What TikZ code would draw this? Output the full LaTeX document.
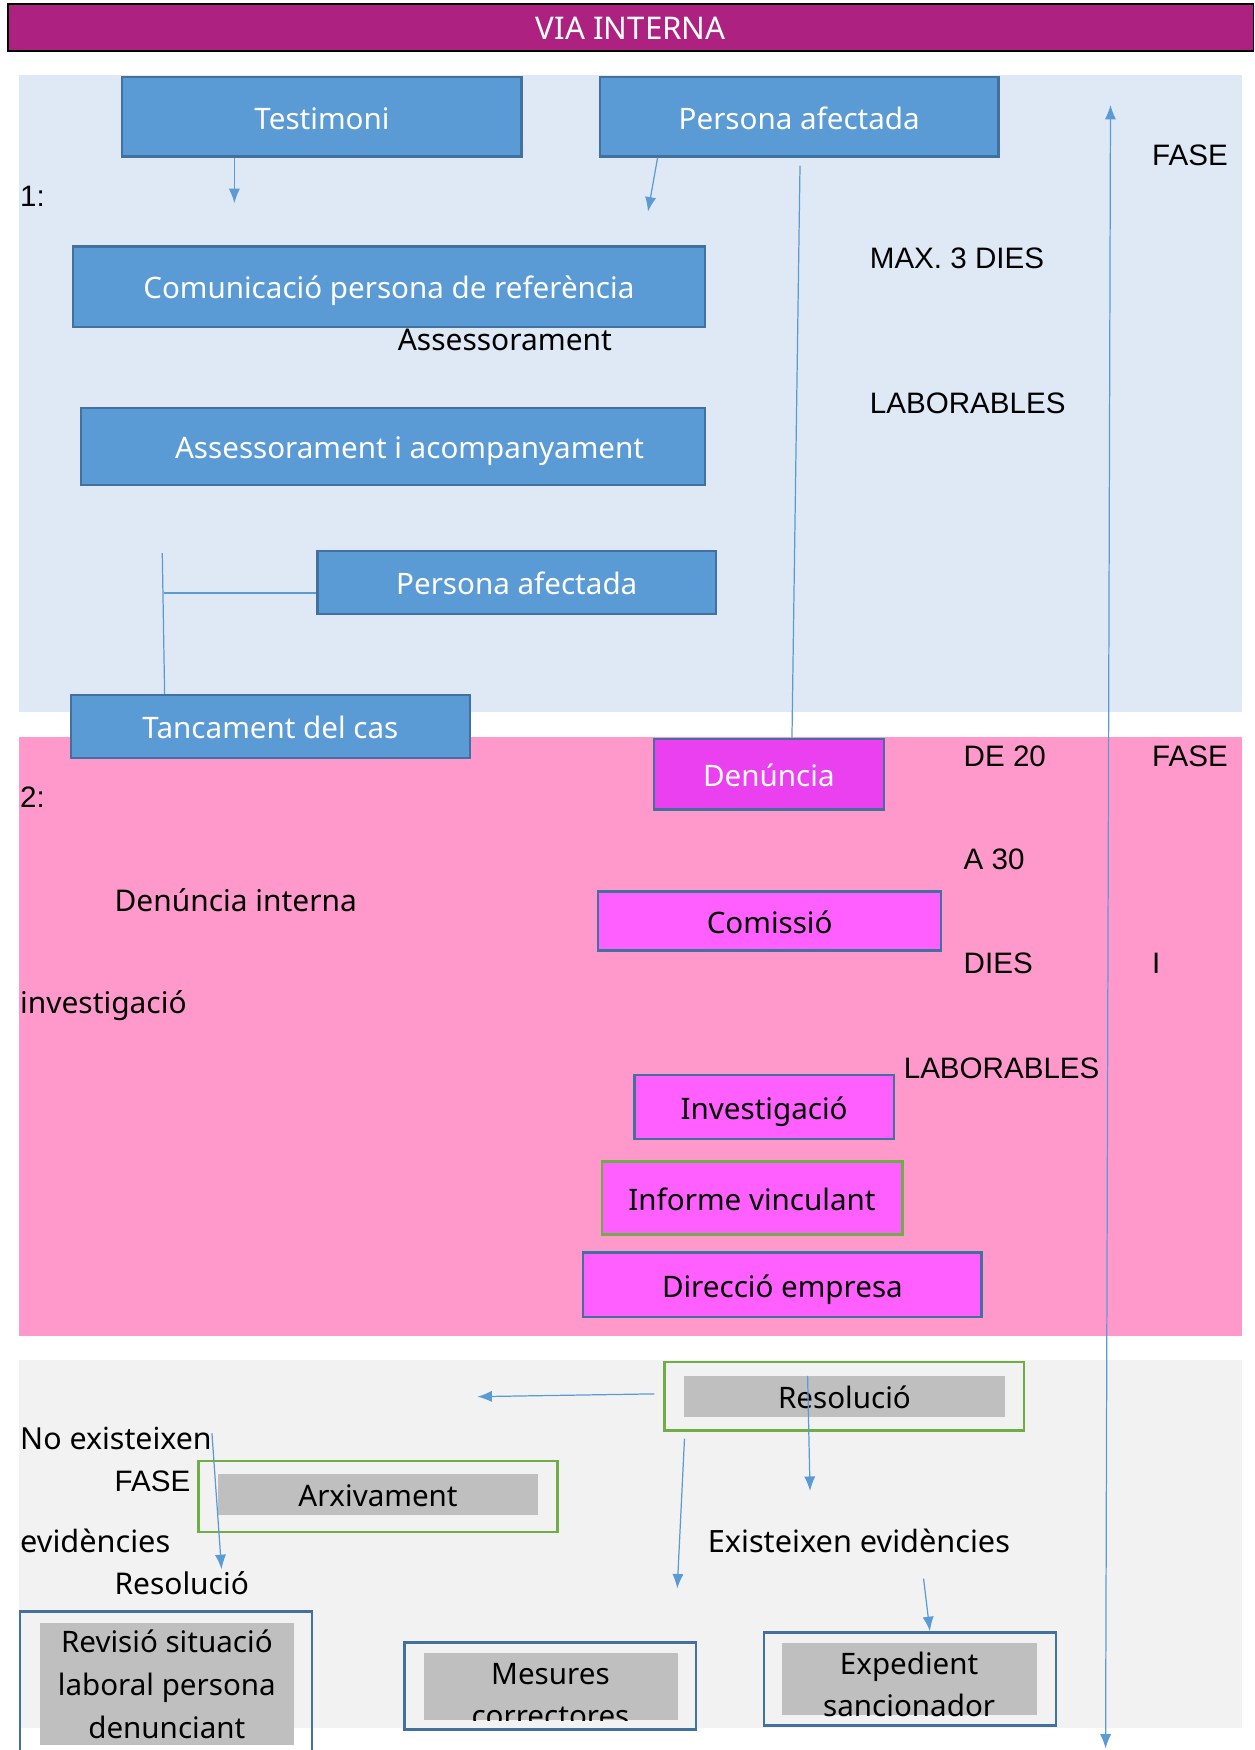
\documentclass[tikz,border=0pt]{standalone}
\usepackage{fontspec}
\setmainfont{Noto Sans}
\newfontfamily\arialf{Liberation Sans}
\usetikzlibrary{arrows.meta}
\definecolor{titlec}{HTML}{AD2181}
\definecolor{phaseone}{HTML}{DEE9F5}
\definecolor{phasetwo}{HTML}{FF99CC}
\definecolor{phasethree}{HTML}{F2F2F2}
\definecolor{bluefill}{HTML}{5B9BD5}
\definecolor{blueline}{HTML}{41719C}
\definecolor{denfill}{HTML}{EA40F0}
\definecolor{pinkfill}{HTML}{FF5FFF}
\definecolor{greenline}{HTML}{70AD47}
\definecolor{greyfill}{HTML}{BFBFBF}
\definecolor{conn}{HTML}{5B9BD5}
\begin{document}
\begin{tikzpicture}[x=1pt,y=-1pt,
  boxtext/.style={font=\fontsize{26.5}{32}\selectfont, text height=22pt, text depth=0pt, inner sep=0pt},
  bluebox/.style={boxtext, draw=blueline, line width=2pt, fill=bluefill, text=white},
  denbox/.style={boxtext, draw=blueline, line width=2pt, fill=denfill, text=white},
  pinkbox/.style={boxtext, draw=blueline, line width=2pt, fill=pinkfill, text=black},
  greenpink/.style={boxtext, draw=greenline, line width=2pt, fill=pinkfill, text=black},
  greenframe/.style={draw=greenline, line width=2.5pt, inner sep=0pt},
  blueframe/.style={draw=blueline, line width=2.5pt, inner sep=0pt},
  greybox/.style={boxtext, fill=greyfill, text=black},
  lbl/.style={font=\fontsize{26.8}{32}\selectfont, anchor=base west, inner sep=0pt},
  albl/.style={font=\arialf\fontsize{26.5}{31}\selectfont, anchor=base west, inner sep=0pt},
  ctext/.style={font=\fontsize{26.5}{32}\selectfont, anchor=base, inner sep=0pt},
  conline/.style={draw=conn, line width=1.1pt},
  conarrow/.style={conline, -{Latex[length=13pt,width=10pt]}}
]
\path[use as bounding box] (0,0) rectangle (1124,1568);
\clip (0,0) rectangle (1124,1568);
% backgrounds
\fill[phaseone] (17.2,67.2) rectangle (1113,638);
\fill[phasetwo] (17.2,660) rectangle (1113,1197);
\fill[phasethree] (17.2,1218.6) rectangle (1113,1548);
% title
\node[draw=black, line width=1.5pt, fill=titlec, text=white, minimum width=1116pt, minimum height=41.8pt, inner sep=0pt,
      font=\fontsize{28}{33}\selectfont, text height=22pt, text depth=0pt] (title) at (565.1,24.5) {VIA INTERNA};
% phase 1
\node[bluebox, minimum width=357.7pt, minimum height=71pt] (testimoni) at (288.5,104.8) {Testimoni};
\node[bluebox, minimum width=357pt, minimum height=71pt] (pafect) at (716.1,104.8) {Persona afectada};
\node[bluebox, minimum width=566.3pt, minimum height=71.7pt] (comunic) at (348.4,256.8) {Comunicació persona de referència};
\node[bluebox, minimum width=559.1pt, minimum height=68.6pt] (assess) at (352,400) {\hspace*{30pt}Assessorament i acompanyament};
\node[bluebox, minimum width=356.9pt, minimum height=56.4pt] (pafect2) at (463,521.7) {Persona afectada};
\node[bluebox, minimum width=357pt, minimum height=56.2pt] (tancament) at (242.3,651.1) {Tancament del cas};
\node[albl] (fase1) at (1032.2,148) {FASE};
\node[albl] (one) at (17.9,185) {1:};
\node[albl] (max3) at (779.2,241) {MAX. 3 DIES};
\node[lbl] (assesslbl) at (356.3,314) {Assessorament};
\node[albl] (labor1) at (779.2,370.5) {LABORABLES};
% phase 2
\node[denbox, minimum width=205.7pt, minimum height=63.6pt] (denuncia) at (688.9,693.6) {Denúncia};
\node[pinkbox, minimum width=307.4pt, minimum height=52.7pt] (comissio) at (689.6,825.2) {Comissió};
\node[pinkbox, minimum width=232.3pt, minimum height=57.5pt] (investigacio) at (684.6,991.8) {Investigació};
\node[greenpink, minimum width=269.5pt, minimum height=65.3pt] (informe) at (673.8,1073.4) {Informe vinculant};
\node[pinkbox, minimum width=356.9pt, minimum height=57.8pt] (direccio) at (701,1151.2) {Direcció empresa};
\node[albl] (de20) at (863.3,687.2) {DE 20};
\node[albl] (fase2) at (1032.2,687.2) {FASE};
\node[albl] (two) at (17.9,723.5) {2:};
\node[albl] (a30) at (863.3,779.3) {A 30};
\node[lbl] (denint) at (102.5,817) {Denúncia interna};
\node[albl] (dies2) at (863.3,872.6) {DIES};
\node[albl] (ilbl) at (1032.2,872.6) {I};
\node[lbl] (invlbl) at (17.9,908.5) {investigació};
\node[albl] (labor2) at (809.6,966) {LABORABLES};
% phase 3
\node[greenframe, minimum width=322.5pt, minimum height=61pt] (resolout) at (756.3,1250.9) {};
\node[greybox, minimum width=287.4pt, minimum height=37pt] (resolgrey) at (756.6,1251.4) {Resolució};
\node[greenframe, minimum width=321.8pt, minimum height=63.6pt] (arxout) at (338.7,1340.8) {};
\node[greybox, minimum width=287.4pt, minimum height=36.4pt] (arxgrey) at (338.7,1339.2) {Arxivament};
\node[blueframe, minimum width=261.7pt, minimum height=150pt] (revout) at (148.75,1519) {};
\node[greybox, minimum width=227.3pt, minimum height=109.6pt] (revgrey) at (149.45,1508.6) {};
\node[ctext] (rev1) at (149.5,1480.7) {Revisió situació};
\node[ctext] (rev2) at (149.5,1519.3) {laboral persona};
\node[ctext] (rev3) at (149.5,1557.4) {denunciant};
\node[blueframe, minimum width=260.9pt, minimum height=77.6pt] (mesout) at (493.15,1510.5) {};
\node[greybox, minimum width=227.2pt, minimum height=60.6pt] (mesgrey) at (493.5,1511) {};
\begin{scope}
\clip (mesgrey.south west) rectangle (mesgrey.north east);
\node[ctext] (mes1) at (493.2,1509) {Mesures};
\node[ctext] (mes2) at (493.2,1547) {correctores};
\end{scope}
\node[blueframe, minimum width=261.6pt, minimum height=82.9pt] (expout) at (815.4,1504.25) {};
\node[greybox, minimum width=228.7pt, minimum height=64.8pt] (expgrey) at (814.65,1504.1) {};
\node[ctext] (exp1) at (814.6,1500) {Expedient};
\node[ctext] (exp2) at (814.6,1538) {sancionador};
\node[lbl, font=\fontsize{27.2}{32}\selectfont] (noexist) at (17.9,1298.6) {No existeixen};
\node[albl] (fase3) at (102.5,1336) {FASE};
\node[lbl, font=\fontsize{27.5}{32}\selectfont] (evid) at (17.9,1391) {evidències};
\node[lbl, font=\fontsize{27.5}{32}\selectfont] (exist) at (634,1391) {Existeixen evidències};
\node[lbl] (resollbl) at (102.5,1428.4) {Resolució};
% connectors phase 1
\coordinate (c1) at (210,182.1);
\draw[conarrow] (testimoni.south -| c1) -- (c1);
\coordinate (c2x) at (589.2,0);
\coordinate (c2) at (580.6,189.6);
\draw[conarrow] (pafect.south -| c2x) -- (c2);
\coordinate (c3) at (716.8,148.4);
\coordinate (c3x) at (709.6,0);
\draw[conline] (c3) -- (denuncia.north -| c3x);
\coordinate (c4) at (145.4,495.5);
\coordinate (c4x) at (147.5,0);
\draw[conline] (c4) -- (tancament.north -| c4x);
\coordinate (c5) at (146.9,531.4);
\draw[conline] (c5) -- (c5 -| pafect2.west);
% phase duration arrow
\coordinate (ftop) at (995,94);
\coordinate (fbot) at (990.6,1566.7);
\draw[conline, {Latex[length=13pt,width=10pt]}-{Latex[length=13pt,width=10pt]}] (ftop) -- (fbot);
% connectors phase 3
\coordinate (c6) at (427.7,1251.4);
\draw[conarrow] ([xshift=-7.5pt,yshift=2pt]resolout.west) -- (c6);
\coordinate (c7x) at (723.6,0);
\coordinate (c7) at (725.8,1335.9);
\draw[conarrow] (resolgrey.north -| c7x) -- (c7);
\coordinate (c8s) at (613.3,1289);
\coordinate (c8) at (606.8,1423.3);
\draw[conarrow] (c8s) -- (c8);
\coordinate (c9s) at (189.9,1284.2);
\coordinate (c9) at (198.5,1406);
\draw[conarrow] (c9s) -- (c9);
\coordinate (c10s) at (827.5,1414.4);
\coordinate (c10x) at (833.2,0);
\draw[conarrow] (c10s) -- (expout.north -| c10x);
\end{tikzpicture}
\end{document}
